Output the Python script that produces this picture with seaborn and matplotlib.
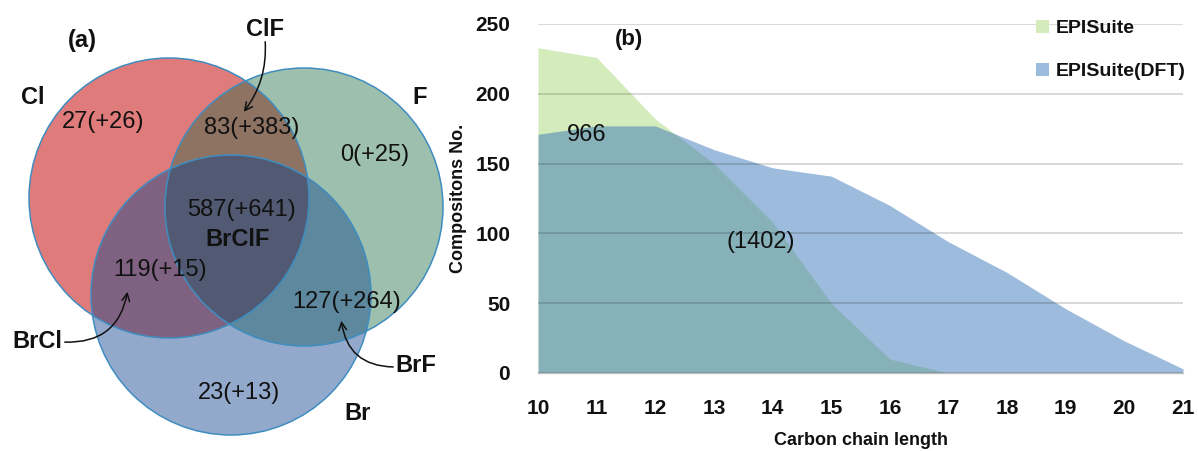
import numpy as np
import matplotlib
matplotlib.use("Agg")
import matplotlib.pyplot as plt
from matplotlib.patches import Circle, Polygon, Patch
import seaborn as sns

# ---- data -------------------------------------------------------------
# Venn diagram of halogen compositions: base count (+ additional count)
venn_sets = ["Cl", "F", "Br"]
region_keys = ["Cl", "F", "Br", "ClF", "BrCl", "BrF", "BrClF"]
region_base = [27, 0, 23, 83, 119, 127, 587]
region_extra = [26, 25, 13, 383, 15, 264, 641]

# Number of compositions per carbon chain length
carbon_length = [10, 11, 12, 13, 14, 15, 16, 17, 18, 19, 20, 21]
episuite = [233, 226, 182, 150, 108, 50, 10, 0, 0, 0, 0, 0]
episuite_dft = [171, 177, 177, 160, 147, 141, 120, 94, 72, 46, 23, 3]
series_names = ["EPISuite", "EPISuite(DFT)"]
total_episuite = "966"
total_dft = "(1402)"

# ---- style ------------------------------------------------------------
sns.set_style("white")
plt.rcParams["font.family"] = ["Liberation Sans", "DejaVu Sans"]

fig = plt.figure(figsize=(11.98, 4.51), dpi=100)

# ---- (a) Venn diagram, drawn in pixel-like units ----------------------
axv = fig.add_axes([0, 0, 460 / 1198, 1])
axv.set_xlim(0, 460)
axv.set_ylim(451, 0)
axv.axis("off")

circles = {"Cl": ((169, 198), 140), "F": ((304, 207), 139), "Br": ((231, 295), 140)}
region_colors = {
    "Cl": "#DF7B7B", "F": "#9DBFAE", "Br": "#93A9CB",
    "ClF": "#8E7363", "BrCl": "#7F6282", "BrF": "#5D889D", "BrClF": "#515A72",
}


def intersection_polygon(names, n=1440):
    """Convex outline of the intersection of the named circles."""
    pts = []
    for nm in names:
        (cx, cy), r = circles[nm]
        t = np.linspace(0, 2 * np.pi, n, endpoint=False)
        p = np.column_stack([cx + r * np.cos(t), cy + r * np.sin(t)])
        keep = np.ones(len(p), bool)
        for other in names:
            if other == nm:
                continue
            (ox, oy), orad = circles[other]
            keep &= np.hypot(p[:, 0] - ox, p[:, 1] - oy) <= orad + 1e-6
        pts.append(p[keep])
    pts = np.vstack(pts)
    c = pts.mean(axis=0)
    order = np.argsort(np.arctan2(pts[:, 1] - c[1], pts[:, 0] - c[0]))
    return pts[order]


for nm in venn_sets:
    (cx, cy), r = circles[nm]
    axv.add_patch(Circle((cx, cy), r, facecolor=region_colors[nm], edgecolor="none", zorder=1))

combo_sets = {"ClF": ["Cl", "F"], "BrCl": ["Cl", "Br"], "BrF": ["F", "Br"],
              "BrClF": ["Cl", "F", "Br"]}
for key, members in combo_sets.items():
    axv.add_patch(Polygon(intersection_polygon(members), closed=True,
                          facecolor=region_colors[key], edgecolor="none", zorder=2))

for nm in venn_sets:
    (cx, cy), r = circles[nm]
    axv.add_patch(Circle((cx, cy), r, facecolor="none", edgecolor="#3F8DC0",
                         linewidth=1.1, zorder=3))

count_pos = {"Cl": (103, 122), "F": (375, 155), "Br": (239, 393), "ClF": (252, 128),
             "BrCl": (160, 270), "BrF": (347, 302), "BrClF": (241, 210)}
for key, b, e in zip(region_keys, region_base, region_extra):
    x, y = count_pos[key]
    axv.text(x, y, f"{b}(+{e})", ha="center", va="center", fontsize=17,
             color="#111111", zorder=5)

bold_kw = dict(ha="center", va="center", fontsize=17, fontweight="bold", color="#111111", zorder=5)
axv.text(82, 40, "(a)", **bold_kw)
axv.text(33, 97, "Cl", **bold_kw)
axv.text(420, 97, "F", **bold_kw)
axv.text(358, 413, "Br", **bold_kw)
axv.text(238, 239, "BrClF", **bold_kw)
axv.text(265, 30, "ClF", **bold_kw)
axv.text(37, 342, "BrCl", **bold_kw)
axv.text(416, 365, "BrF", **bold_kw)

arrow_kw = dict(arrowstyle="->", color="#111111", linewidth=1.1, mutation_scale=14)
axv.annotate("", xy=(242, 114), xytext=(265, 39),
             arrowprops=dict(connectionstyle="arc3,rad=-0.2", **arrow_kw), zorder=6)
axv.annotate("", xy=(128, 289), xytext=(62, 342),
             arrowprops=dict(connectionstyle="arc3,rad=0.45", **arrow_kw), zorder=6)
axv.annotate("", xy=(341, 318), xytext=(396, 367),
             arrowprops=dict(connectionstyle="arc3,rad=-0.45", **arrow_kw), zorder=6)

# ---- (b) area chart ---------------------------------------------------
ax = fig.add_axes([538 / 1198, 78 / 451, (1183 - 538) / 1198, (373 - 24) / 451])
green = "#D4EBBB"
blue = "#3373B8"
blue_alpha = 0.48
ax.fill_between(carbon_length, episuite, 0, color=green, linewidth=0, zorder=1)
ax.fill_between(carbon_length, episuite_dft, 0, color=blue, alpha=blue_alpha,
                linewidth=0, zorder=2)

ax.set_xlim(10, 21)
ax.set_ylim(0, 250)
ax.set_xticks(carbon_length)
ax.set_yticks([0, 50, 100, 150, 200, 250])
ax.set_axisbelow(False)
ax.yaxis.grid(True, color="#000000", alpha=0.15, linewidth=1.4)
for gl in ax.get_ygridlines():
    gl.set_zorder(3)
sns.despine(ax=ax, left=True, top=True, right=True, bottom=False)
ax.spines["bottom"].set_color("#BFBFBF")
ax.spines["bottom"].set_linewidth(1.0)
ax.tick_params(axis="x", direction="out", length=7, width=1, color="#BFBFBF", pad=12)
ax.tick_params(axis="y", length=0, pad=20)
for lab in ax.get_xticklabels() + ax.get_yticklabels():
    lab.set_fontweight("bold")
    lab.set_fontsize(15)
    lab.set_color("#111111")

ax.set_xlabel("Carbon chain length", fontweight="bold",
              fontsize=13, color="#111111", labelpad=10)
ax.set_ylabel("Compositons No.", fontweight="bold",
              fontsize=13, color="#111111", labelpad=6)

fig.text(629 / 1198, 1 - 40 / 451, "(b)", ha="center", va="center",
         fontsize=16, fontweight="bold", color="#111111")
fig.text(587 / 1198, 1 - 135 / 451, total_episuite, ha="center", va="center",
         fontsize=17, color="#111111")
fig.text(761 / 1198, 1 - 242 / 451, total_dft, ha="center", va="center",
         fontsize=17, color="#111111")

handles = [Patch(facecolor=green, edgecolor="none"),
           Patch(facecolor=blue, alpha=blue_alpha, edgecolor="none")]
leg = fig.legend(handles, series_names, loc="upper left",
                 bbox_to_anchor=(1036 / 1198, 1 - 20 / 451), frameon=False,
                 handlelength=0.65, handleheight=0.65, handletextpad=0.35,
                 labelspacing=1.3, borderaxespad=0, borderpad=0,
                 prop=dict(weight="bold", size=14))
for t in leg.get_texts():
    t.set_color("#111111")

fig.savefig("out.png", dpi=100)
